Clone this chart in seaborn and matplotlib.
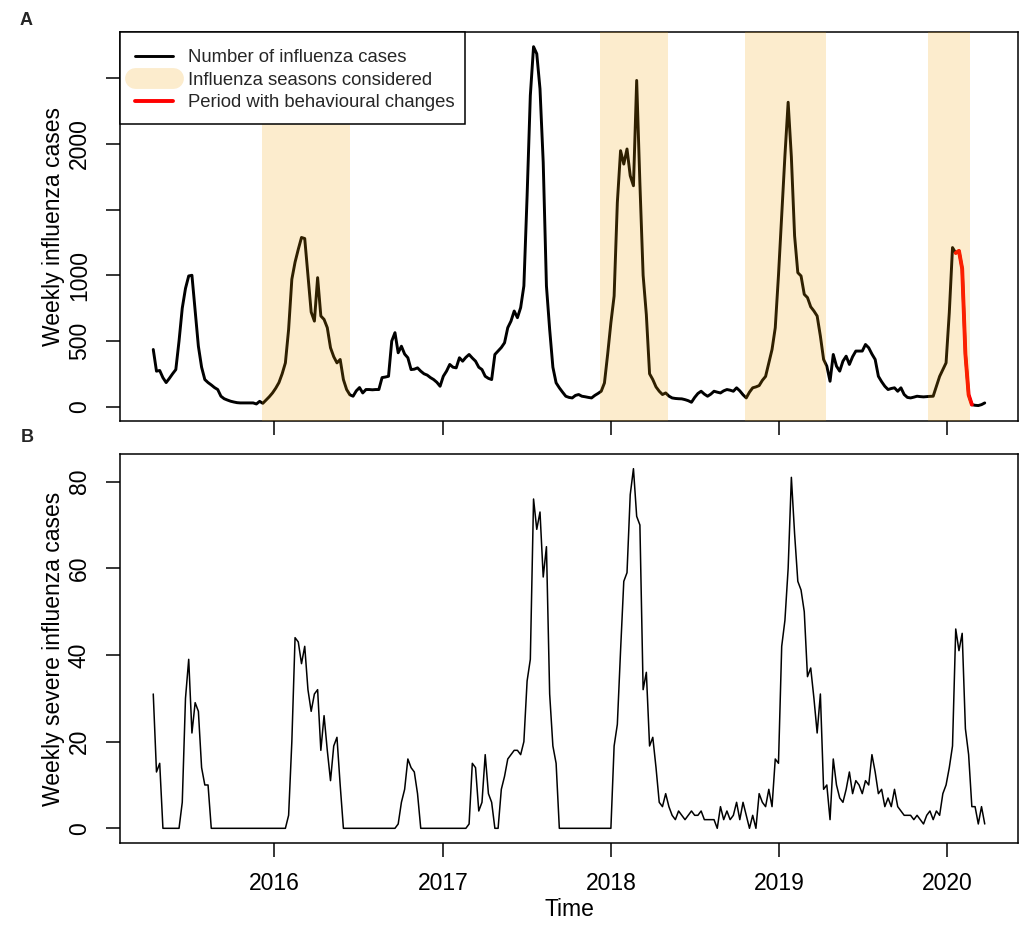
import numpy as np
import pandas as pd
import matplotlib
matplotlib.use("Agg")
import matplotlib.pyplot as plt
import matplotlib.dates as mdates
from matplotlib.lines import Line2D
from matplotlib.patches import Rectangle
from matplotlib.ticker import FixedLocator, FixedFormatter
import seaborn as sns

# ---------------- data ----------------
start_week = "2015-04-13"

# weekly influenza cases (panel A)
cases = [
    435, 270, 275, 220, 183, 215, 250, 282, 500, 750,
    900, 995, 1000, 730, 460, 300, 206, 183, 165, 145,
    130, 79, 60, 50, 41, 35, 30, 28, 28, 28,
    28, 28, 20, 40, 25, 50, 75, 104, 140, 183,
    250, 333, 588, 970, 1100, 1198, 1288, 1280, 1000, 720,
    651, 982, 690, 664, 601, 448, 380, 333, 359, 206,
    130, 90, 79, 120, 145, 104, 130, 130, 128, 130,
    130, 221, 225, 231, 499, 563, 410, 460, 400, 372,
    282, 285, 295, 270, 250, 240, 221, 206, 185, 155,
    231, 270, 321, 300, 295, 372, 346, 375, 397, 370,
    346, 300, 282, 231, 215, 206, 397, 423, 450, 486,
    601, 651, 728, 677, 754, 919, 1605, 2369, 2741, 2687,
    2420, 1860, 919, 588, 300, 181, 143, 110, 79, 70,
    66, 85, 92, 79, 75, 70, 66, 85, 100, 117,
    180, 400, 639, 842, 1554, 1949, 1847, 1962, 1758, 1682,
    2484, 1700, 1000, 700, 250, 206, 150, 117, 92, 104,
    80, 66, 62, 60, 59, 53, 45, 33, 70, 100,
    117, 95, 79, 95, 117, 110, 104, 120, 130, 125,
    117, 143, 120, 90, 66, 110, 143, 150, 160, 200,
    230, 333, 435, 600, 1000, 1450, 1911, 2318, 1900, 1300,
    1020, 995, 855, 830, 760, 728, 690, 537, 359, 308,
    193, 397, 308, 270, 346, 384, 321, 380, 423, 423,
    423, 473, 448, 400, 359, 231, 190, 155, 130, 138,
    143, 117, 143, 92, 70, 66, 72, 79, 76, 74,
    76, 78, 79, 155, 230, 282, 333, 715, 1211, 1170,
    1186, 1050, 400, 90, 15, 10, 8, 15, 28,
]

# weekly severe influenza cases (panel B)
severe = [
    31, 13, 15, 0, 0, 0, 0, 0, 0, 6,
    30, 39, 22, 29, 27, 14, 10, 10, 0, 0,
    0, 0, 0, 0, 0, 0, 0, 0, 0, 0,
    0, 0, 0, 0, 0, 0, 0, 0, 0, 0,
    0, 0, 3, 20, 44, 43, 38, 42, 32, 27,
    31, 32, 18, 26, 18, 11, 19, 21, 10, 0,
    0, 0, 0, 0, 0, 0, 0, 0, 0, 0,
    0, 0, 0, 0, 0, 0, 1, 6, 9, 16,
    14, 13, 8, 0, 0, 0, 0, 0, 0, 0,
    0, 0, 0, 0, 0, 0, 0, 0, 1, 15,
    14, 4, 6, 17, 8, 6, 0, 0, 9, 12,
    16, 17, 18, 18, 17, 20, 34, 39, 76, 69,
    73, 58, 65, 31, 19, 15, 0, 0, 0, 0,
    0, 0, 0, 0, 0, 0, 0, 0, 0, 0,
    0, 0, 0, 19, 24, 41, 57, 59, 77, 83,
    72, 70, 32, 36, 19, 21, 14, 6, 5, 8,
    5, 3, 2, 4, 3, 2, 3, 4, 3, 3,
    4, 2, 2, 2, 2, 0, 5, 2, 4, 2,
    3, 6, 2, 6, 3, 0, 3, 0, 8, 6,
    5, 9, 5, 16, 15, 42, 48, 60, 81, 68,
    57, 55, 50, 35, 37, 30, 22, 31, 9, 10,
    2, 16, 10, 7, 6, 9, 13, 8, 11, 10,
    8, 11, 10, 17, 13, 8, 9, 5, 7, 5,
    9, 5, 4, 3, 3, 3, 2, 3, 2, 1,
    3, 4, 2, 4, 3, 8, 10, 14, 19, 46,
    41, 45, 23, 17, 5, 5, 1, 5, 1,
]

season_starts = ["2015-12-06", "2017-12-09", "2018-10-20", "2019-11-21"]
season_ends = ["2016-06-13", "2018-05-05", "2019-04-13", "2020-02-21"]
behaviour_start = "2020-01-20"
behaviour_end = "2020-02-24"

year_ticks = [2016, 2017, 2018, 2019, 2020]
ticks_a = [0, 500, 1000, 1500, 2000, 2500]
labels_a = ["0", "500", "1000", "", "2000", ""]
ticks_b = [0, 20, 40, 60, 80]
legend_labels = ["Number of influenza cases", "Influenza seasons considered",
                 "Period with behavioural changes"]

# ---------------- style ----------------
sns.set_theme(style="white")
plt.rcParams["font.family"] = ["Liberation Sans", "DejaVu Sans"]
plt.rcParams["axes.edgecolor"] = "black"
plt.rcParams["axes.linewidth"] = 1.1

df_a = pd.DataFrame({"week": pd.date_range(start_week, periods=len(cases), freq="7D"),
                     "cases": cases})
df_b = pd.DataFrame({"week": pd.date_range(start_week, periods=len(severe), freq="7D"),
                     "severe": severe})

W, H = 1021, 926
fig = plt.figure(figsize=(W / 100, H / 100), dpi=100)
ax1 = fig.add_axes([0.11753, 0.54536, 0.87953, 0.41976])
ax2 = fig.add_axes([0.11753, 0.08996, 0.87953, 0.41944])

shade_rgb = (0.94, 0.63, 0.02)
shade_alpha = 0.2

# Panel A
sns.lineplot(data=df_a, x="week", y="cases", ax=ax1, color="black", lw=2.1,
             estimator=None, zorder=2)
red_df = df_a[(df_a.week >= pd.Timestamp(behaviour_start)) &
              (df_a.week <= pd.Timestamp(behaviour_end))]
sns.lineplot(data=red_df, x="week", y="cases", ax=ax1, color="red", lw=2.8,
             estimator=None, zorder=2.5)
for s, e in zip(season_starts, season_ends):
    ax1.axvspan(pd.Timestamp(s), pd.Timestamp(e), color=shade_rgb,
                alpha=shade_alpha, lw=0, zorder=3)

# Panel B
sns.lineplot(data=df_b, x="week", y="severe", ax=ax2, color="black", lw=1.1,
             estimator=None)

# x range like R (4% extension)
t0 = mdates.date2num(df_a.week.iloc[0])
t1 = mdates.date2num(df_a.week.iloc[-1])
pad = 0.04 * (t1 - t0)
year_pos = [mdates.date2num(pd.Timestamp(f"{y}-01-01")) for y in year_ticks]
for ax in (ax1, ax2):
    ax.set_xlim(t0 - pad, t1 + pad)
    ax.xaxis.set_major_locator(FixedLocator(year_pos))
    ax.xaxis.set_major_formatter(FixedFormatter([str(y) for y in year_ticks]))
    ax.tick_params(axis="both", which="major", direction="out", length=10,
                   width=1.1, color="black", labelsize=16.5, pad=11,
                   labelcolor="black", bottom=True, left=True)
    for sp in ax.spines.values():
        sp.set_visible(True)
        sp.set_color("black")
        sp.set_linewidth(1.1)
    ax.grid(False)

amax = max(cases)
ax1.set_ylim(-0.04 * amax, 1.04 * amax)
ax1.yaxis.set_major_locator(FixedLocator(ticks_a))
ax1.yaxis.set_major_formatter(FixedFormatter(labels_a))
ax1.tick_params(axis="x", labelbottom=False)
ax1.set_xlabel("")
ax1.set_ylabel("Weekly influenza cases", fontsize=16.5, labelpad=2, color="black")

bmax = max(severe)
ax2.set_ylim(-0.04 * bmax, 1.04 * bmax)
ax2.yaxis.set_major_locator(FixedLocator(ticks_b))
ax2.yaxis.set_major_formatter(FixedFormatter([str(t) for t in ticks_b]))
ax2.set_xlabel("Time", fontsize=16.5, labelpad=2, color="black")
ax2.set_ylabel("Weekly severe influenza cases", fontsize=16.5, labelpad=2, color="black")

for ax in (ax1, ax2):
    for lab in ax.get_yticklabels():
        lab.set_rotation(90)
        lab.set_va("center")

# Legend (R-style box drawn separately)
ax_left_px, ax_right_px, ax_top_px, ax_bot_px = 120, 1018, 32.3, 421
def ax_frac_x(px):
    return (px - ax_left_px) / (ax_right_px - ax_left_px)
def ax_frac_y(py):
    return (ax_bot_px - py) / (ax_bot_px - ax_top_px)

box = Rectangle((0, ax_frac_y(124)), ax_frac_x(465), 1 - ax_frac_y(124),
                transform=ax1.transAxes, facecolor="white", edgecolor="black",
                lw=1.1, zorder=4, clip_on=False)
ax1.add_patch(box)

handles = [
    Line2D([], [], color="black", lw=2.1),
    Line2D([], [], color=shade_rgb, alpha=shade_alpha, lw=15, solid_capstyle="round"),
    Line2D([], [], color="red", lw=2.8),
]
leg = ax1.legend(handles, legend_labels, loc="upper left",
                 bbox_to_anchor=(ax_frac_x(135), ax_frac_y(49)),
                 borderaxespad=0, borderpad=0, fontsize=13.3, frameon=False,
                 handlelength=2.05, handletextpad=0.82, labelspacing=0.3)
leg.set_zorder(5)

# Panel letters
fig.text(20 / W, 1 - 20.5 / H, "A", fontsize=13, fontweight="bold",
         va="center", ha="left")
fig.text(21 / W, 1 - 437.5 / H, "B", fontsize=13, fontweight="bold",
         va="center", ha="left")

fig.savefig("out.png", dpi=100, facecolor="white")
